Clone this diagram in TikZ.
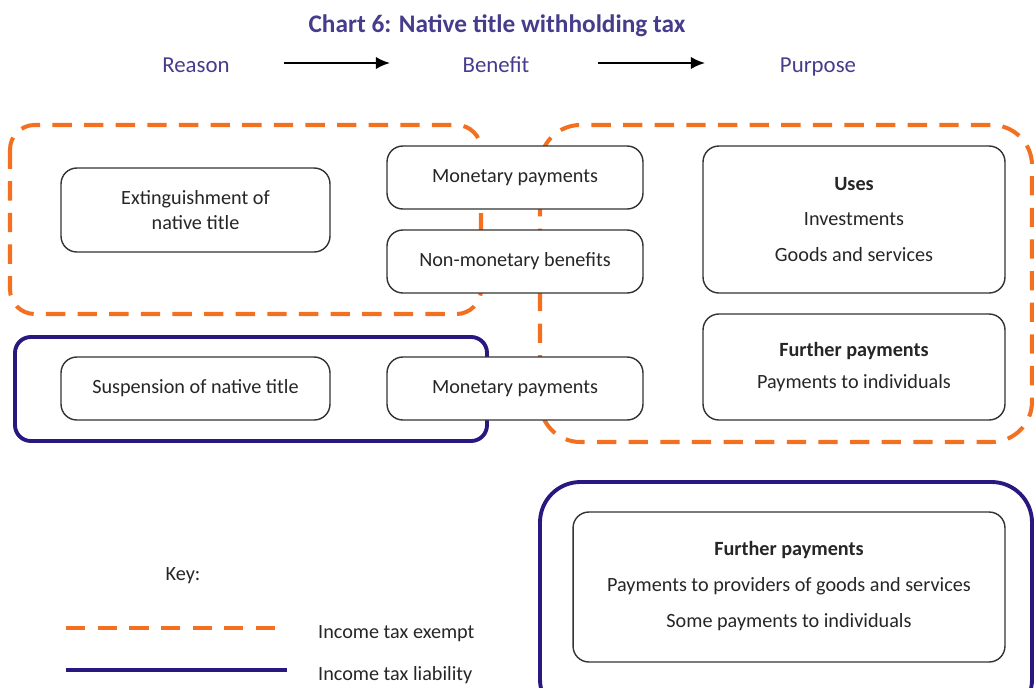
\documentclass[tikz,border=0pt]{standalone}
\usepackage{fontspec}
\setmainfont{Carlito}
\usetikzlibrary{arrows.meta,positioning}
\definecolor{exemptorange}{RGB}{243,112,33}
\definecolor{liablenavy}{RGB}{42,24,128}
\definecolor{headpurple}{RGB}{70,60,140}
\tikzset{
  box/.style={draw=black!80, line width=0.8pt, fill=white, rounded corners=9pt, align=center,
    text=black!85, font=\fontsize{11.5}{13}\selectfont},
  exempt/.style={draw=exemptorange, line width=2.3pt, dash pattern=on 11pt off 7pt},
  liable/.style={draw=liablenavy, line width=2.2pt},
  head/.style={text=headpurple, anchor=base, font=\fontsize{13}{15}\selectfont},
  keytext/.style={text=black!85, font=\fontsize{11.5}{13}\selectfont},
  flow/.style={-{Latex[length=8pt,width=7pt]}, line width=1.2pt},
}

\begin{document}
\begin{tikzpicture}[x=0.02cm, y=-0.02cm]
        \clip (0,0) rectangle (1034,687);
        \node[head, font=\fontsize{14.4}{16}\selectfont\bfseries] (title) at (497,32) {Chart 6: Native title withholding tax};
        \node[head] (reason) at (196,72) {Reason};
        \node[head] (benefit) at (496,72) {Benefit};
        \node[head] (purpose) at (818,72) {Purpose};
        \coordinate (rb1) at (284,63);
        \coordinate (rb2) at (390,63);
        \coordinate (bp1) at (598,63);
        \coordinate (bp2) at (705,63);
        \draw[flow] (rb1) -- (rb2);
        \draw[flow] (bp1) -- (bp2);

        \draw[exempt, rounded corners=14pt] (10,125) rectangle (481,314);
        \draw[exempt, rounded corners=23pt] (540,125) rectangle (1032,442);
        \draw[liable, rounded corners=9pt] (15,337) rectangle (487,441);
        \draw[liable, rounded corners=23pt] (540,482) rectangle (1032,720);

        \node[box, minimum width=5.38cm, minimum height=1.68cm] (ext) at (195.5,210) {Extinguishment of\\[1pt]native title};
        \node[box, minimum width=5.38cm, minimum height=1.26cm] (susp) at (195.5,388.5) {Suspension of native title};
        \node[box, minimum width=5.12cm, minimum height=1.26cm] (mon1) at (515,177.5) {Monetary payments};
        \node[box, minimum width=5.12cm, minimum height=1.26cm] (nonmon) at (515,261.5) {Non-monetary benefits};
        \node[box, minimum width=5.12cm, minimum height=1.26cm] (mon2) at (515,388.5) {Monetary payments};
        \node[box, minimum width=6.04cm, minimum height=2.94cm] (uses) at (854,219.5)
          {\textbf{Uses}\\[7pt]Investments\\[7pt]Goods and services};
        \node[box, minimum width=6.04cm, minimum height=2.12cm] (further) at (854,367)
          {\textbf{Further payments}\\[5pt]Payments to individuals};
        \node[box, minimum width=8.64cm, minimum height=3cm] (providers) at (789,587)
          {\raisebox{4pt}{\begin{tabular}{@{}c@{}}\textbf{Further payments}\\[7.5pt]Payments to providers of goods and services\\[7.5pt]Some payments to individuals\end{tabular}}};

        \node[keytext] (key) at (183,576) {Key:};
        \coordinate (ex1) at (66,628);
        \coordinate (ex2) at (284,628);
        \coordinate (li1) at (66,670);
        \coordinate (li2) at (287,670);
        \draw[exempt] (ex1) -- (ex2);
        \draw[liable] (li1) -- (li2);
        \node[keytext, anchor=west] (exlabel) at (312,634) {Income tax exempt};
        \node[keytext, anchor=west] (lilabel) at (312,675) {Income tax liability};
    \end{tikzpicture}
\end{document}
